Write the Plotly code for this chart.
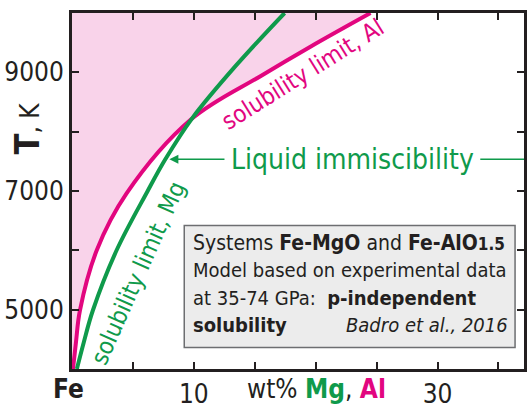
import plotly.graph_objects as go

# ---- data ----
al_T = [4000, 4460, 4986, 6005, 6959, 8208, 8948, 9441, 10000]
al_wt = [0.08, 0.33, 0.65, 2.04, 4.48, 9.78, 15.57, 19.64, 24.5]
mg_T = [4000, 4460, 4986, 6005, 6992, 7534, 8225, 9112, 10000]
mg_wt = [0.4, 0.98, 1.71, 3.67, 6.19, 7.66, 9.86, 13.45, 17.45]
x_tickvals = [0, 5, 10, 15, 20, 25, 30, 35]
x_ticktext = ["", "", "10", "", "", "", "30", ""]
y_tickvals = [5000, 6000, 7000, 8000, 9000]
y_ticktext = ["5000", "", "7000", "", "9000"]

PINK = "#e2067f"
GREEN = "#0f9a4b"
FILL = "#f9d3ea"
AX = "#231f20"
FONT = "DejaVu Sans Condensed, Liberation Sans Narrow, sans-serif"

W, H = 527, 409
L, R, T_, B = 72, 0, 13, 31
XR = [0, 37.1]
YR = [4000, 10000]
PW = W - L - R


def px2x(px):
    return XR[0] + (px - L) / PW * (XR[1] - XR[0])


def py2y(py):
    return YR[1] - (py - T_) / (H - T_ - B) * (YR[1] - YR[0])


SM = 1.0
fig = go.Figure()
fig.add_trace(go.Scatter(x=al_wt, y=al_T, mode="lines",
                         line=dict(color=PINK, width=0, shape="spline", smoothing=SM),
                         fill="tozerox", fillcolor=FILL, hoverinfo="skip", showlegend=False))
fig.add_trace(go.Scatter(x=al_wt, y=al_T, mode="lines",
                         line=dict(color=PINK, width=4, shape="spline", smoothing=SM),
                         showlegend=False))
fig.add_trace(go.Scatter(x=mg_wt, y=mg_T, mode="lines",
                         line=dict(color=GREEN, width=4, shape="spline", smoothing=SM),
                         showlegend=False))

shapes = [
    dict(type="rect", xref="x", yref="y", x0=px2x(185), x1=px2x(518), y0=py2y(356), y1=py2y(231),
         fillcolor="#ececec", line=dict(color="#6d6e71", width=1.5), layer="above"),
    dict(type="line", xref="x", yref="y", x0=px2x(483), x1=px2x(527), y0=py2y(163), y1=py2y(163),
         line=dict(color=GREEN, width=1.5)),
]

ann = []
box_font = dict(family=FONT, size=20, color=AX)
ann.append(dict(x=px2x(192), y=py2y(249), xref="x", yref="y", xanchor="left", yanchor="middle",
                showarrow=False, font=dict(family=FONT, size=21, color=AX),
                text="Systems <b>Fe-MgO</b> and <b>Fe-AlO<span style='font-size:17px'>1.5</span></b>"))
ann.append(dict(x=px2x(192), y=py2y(277), xref="x", yref="y", xanchor="left", yanchor="middle",
                showarrow=False, font=box_font, text="Model based on experimental data"))
ann.append(dict(x=px2x(192), y=py2y(305), xref="x", yref="y", xanchor="left", yanchor="middle",
                showarrow=False, font=box_font, text="at 35-74 GPa:  <b>p-independent</b>"))
ann.append(dict(x=px2x(192), y=py2y(333), xref="x", yref="y", xanchor="left", yanchor="middle",
                showarrow=False, font=box_font, text="<b>solubility</b>"))
ann.append(dict(x=px2x(513), y=py2y(333), xref="x", yref="y", xanchor="right", yanchor="middle",
                showarrow=False, font=box_font, text="<i>Badro et al., 2016</i>"))

# Liquid immiscibility label + arrow
ann.append(dict(x=px2x(354), y=py2y(163), xref="x", yref="y", xanchor="center", yanchor="middle",
                showarrow=False, font=dict(family=FONT, size=28, color=GREEN),
                text="Liquid immiscibility"))
ann.append(dict(x=px2x(170), y=py2y(163), xref="x", yref="y", ax=px2x(227), ay=py2y(163),
                axref="x", ayref="y", showarrow=True, arrowhead=2, arrowsize=1.2,
                arrowwidth=1.5, arrowcolor=GREEN, text=""))

# curve labels
ann.append(dict(x=px2x(305), y=py2y(76), xref="x", yref="y", showarrow=False, textangle=-32,
                font=dict(family=FONT, size=24, color=PINK), text="solubility limit, Al"))
ann.append(dict(x=px2x(139), y=py2y(280), xref="x", yref="y", showarrow=False, textangle=-66,
                font=dict(family=FONT, size=24, color=GREEN), text="solubility limit, Mg"))

# x axis labels: Fe at origin and the unit / element title
ann.append(dict(x=(68 - L) / PW, y=0, xref="paper", yref="paper", xanchor="center", yanchor="top",
                yshift=-3, showarrow=False, font=dict(family=FONT, size=26, color=AX),
                text="<b>Fe</b>"))
xlab = ("wt% <b><span style='color:" + GREEN + "'>Mg</span></b>, <b><span style='color:"
        + PINK + "'>Al</span></b>")
ann.append(dict(x=px2x(318), y=0, xref="x", yref="paper", xanchor="center", yanchor="top",
                yshift=-3, showarrow=False, font=dict(family=FONT, size=26, color=AX),
                text=xlab))
ann.append(dict(x=(27 - L) / PW, y=py2y(131), xref="paper", yref="y",
                xanchor="center", yanchor="middle",
                showarrow=False, textangle=-90, font=dict(family=FONT, size=26, color=AX),
                text="<b><span style='font-size:34px'>T</span></b>, K"))

fig.update_layout(
    width=W, height=H, margin=dict(l=L, r=R, t=T_, b=B),
    paper_bgcolor="white", plot_bgcolor="white",
    shapes=shapes, annotations=ann, showlegend=False,
    xaxis=dict(range=XR, showgrid=False, zeroline=False, showline=True, linewidth=3, linecolor=AX,
               mirror="ticks", ticks="inside", ticklen=7, tickwidth=1.5, tickcolor=AX,
               tickvals=x_tickvals, ticktext=x_ticktext,
               tickfont=dict(family=FONT, size=26, color=AX)),
    yaxis=dict(range=YR, showgrid=False, zeroline=False, showline=True, linewidth=3, linecolor=AX,
               mirror="ticks", ticks="inside", ticklen=7, tickwidth=1.5, tickcolor=AX,
               tickvals=y_tickvals, ticktext=y_ticktext,
               tickfont=dict(family=FONT, size=26, color=AX)),
)

fig.write_html("out.html")
